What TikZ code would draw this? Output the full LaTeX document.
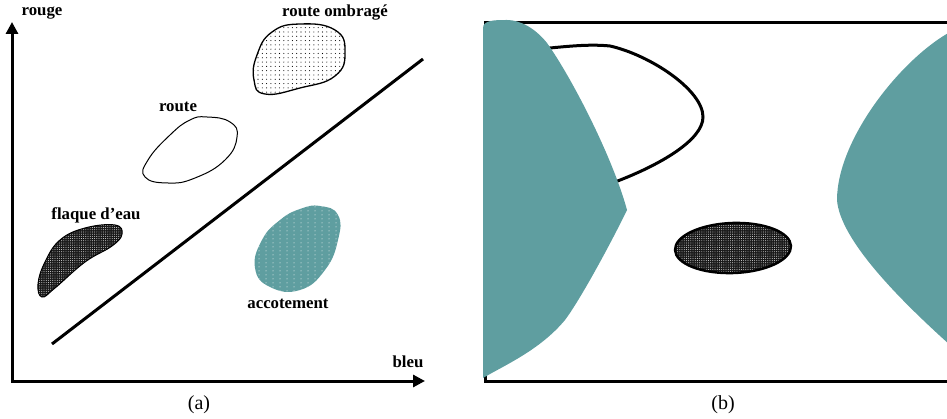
\documentclass[tikz,border=0pt]{standalone}
\usepackage{fontspec}
\setmainfont{Liberation Serif}
\usepackage{xcolor}
\usepackage{tikz}
\usetikzlibrary{arrows.meta,patterns,patterns.meta}

\definecolor{cadet}{RGB}{95,158,160}

\tikzdeclarepattern{name=coldots, type=uncolored,
  bounding box={(-1pt,-1pt) and (1pt,1pt)}, tile size={(7pt,4pt)},
  code={\fill (0pt,0pt) circle (0.5pt);}}
\tikzdeclarepattern{name=sparsedots, type=uncolored,
  bounding box={(-1pt,-1pt) and (1pt,1pt)}, tile size={(4.3pt,4.3pt)},
  code={\fill (0pt,0pt) circle (0.55pt);}}
\tikzdeclarepattern{name=finedots, type=uncolored,
  bounding box={(-1pt,-1pt) and (1pt,1pt)}, tile size={(2.2pt,2.2pt)},
  code={\fill (0pt,0pt) circle (0.45pt);}}

\tikzset{
  lab/.style={font=\fontsize{16.8}{20}\selectfont\bfseries},
  sublabel/.style={font=\fontsize{20}{24}\selectfont},
  thick line/.style={line width=3pt},
  puddle/.style={preaction={fill=black!90},pattern=finedots,pattern color=white!75}
}

\begin{document}
\begin{tikzpicture}[x=1pt,y=-1pt]
    \useasboundingbox (0,0) rectangle (947,419);

    % (a) axes
    \draw[thick line,{Triangle[length=12pt,width=12pt]}-{Triangle[length=12pt,width=12pt]}]
        (12,22) -- (12,381) -- (425,381);
    \draw[thick line] (52,344) -- (423,59);

    % (a) classes
    \draw[line width=1.3pt,pattern=sparsedots] plot[smooth cycle,tension=0.8] coordinates
        {(300,24) (335,30) (345,52) (335,76) (300,88) (265,94) (254,80) (257,55) (272,32)};
    \draw[line width=1pt] plot[smooth cycle,tension=0.8] coordinates
        {(207,117) (230,122) (237,137) (225,160) (195,178) (168,183) (145,177) (148,160) (170,135) (190,120)};
    \draw[line width=1pt,puddle] plot[smooth cycle,tension=0.7] coordinates
        {(115,225) (122,234) (112,246) (85,262) (55,288) (42,297) (38,284) (45,262) (60,240) (85,228)};
    \path[fill=cadet,postaction={pattern=coldots,pattern color=white}] plot[smooth cycle,tension=0.8] coordinates
        {(320,206) (338,215) (338,240) (325,270) (300,290) (270,287) (255,268) (262,240) (280,220) (300,209)};

    % (a) labels
    \node[lab] (rouge) at (42,13) {rouge};
    \node[lab] (bleu) at (408,362) {bleu};
    \node[lab] (ombre) at (335,13) {route ombragé};
    \node[lab] (route) at (178,107) {route};
    \node[lab] (flaque) at (96,215) {flaque d’eau};
    \node[lab] (accot) at (288,304) {accotement};
    \node[sublabel] (suba) at (199,405) {(a)};

    % (b) frame and road
    \draw[thick line] (947,23) -- (485,23) -- (485,381) -- (947,381);
    \draw[thick line] (520,50) -- (540,49) .. controls (570,46) and (590,44) .. (610,46)
        .. controls (650,55) and (703,90) .. (703,117)
        .. controls (703,140) and (660,165) .. (615,182) -- (600,190);

    % (b) verges
    \fill[cadet] (483,378) -- (483,28) .. controls (483,20) and (495,20) .. (507,20)
        .. controls (520,20) and (535,28) .. (547,43)
        .. controls (570,75) and (612,155) .. (627,210)
        .. controls (610,245) and (580,300) .. (565,320)
        .. controls (540,350) and (505,365) .. (483,378) -- cycle;
    \fill[cadet] (950,32) .. controls (900,60) and (837,140) .. (837,200)
        .. controls (840,240) and (900,300) .. (950,345) -- cycle;

    % (b) puddle
    \draw[line width=2.5pt,puddle] (733,248) ellipse [x radius=58, y radius=25, rotate=2];

    \node[sublabel] (subb) at (723,405) {(b)};
\end{tikzpicture}
\end{document}
